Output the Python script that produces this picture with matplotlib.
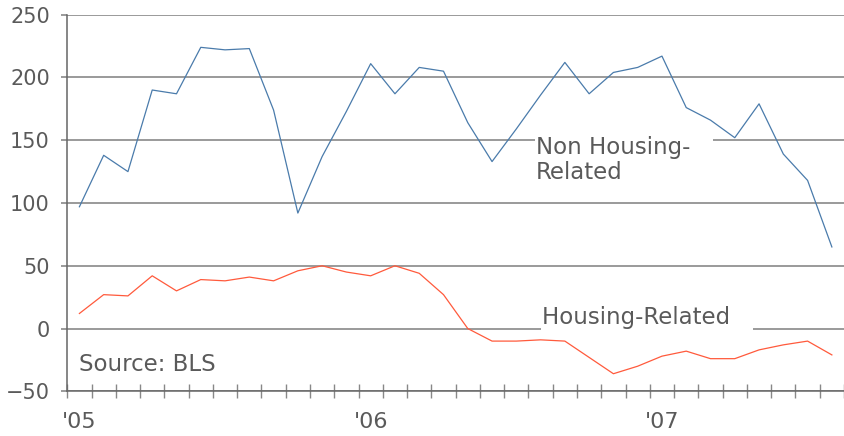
import matplotlib.pyplot as plt
import numpy as np

# monthly, Jan 2005 - Aug 2007
months = np.arange(32)
non_housing = np.array([97, 138, 125, 190, 187, 224, 222, 223, 174, 92,
                        137, 173, 211, 187, 208, 205, 164, 133, 159, 186,
                        212, 187, 204, 208, 217, 176, 166, 152, 179, 139,
                        118, 65])
housing = np.array([12, 27, 26, 42, 30, 39, 38, 41, 38, 46,
                    50, 45, 42, 50, 44, 27, 0, -10, -10, -9,
                    -10, -23, -36, -30, -22, -18, -24, -24, -17, -13,
                    -10, -21])
year_pos = [0, 12, 24]
year_labels = ["'05", "'06", "'07"]
yticks = [-50, 0, 50, 100, 150, 200, 250]

text_col = '#5a5a5a'
grid_col = '#7f7f7f'

fig = plt.figure(figsize=(8.44, 4.36), dpi=100)
ax = fig.add_axes([0.0797, 0.1025, 0.9203, 0.8638])

ax.plot(months, non_housing, color='#4a7bab', lw=0.9, zorder=3)
ax.plot(months, housing, color='#ff5a3c', lw=0.9, zorder=3)

ax.set_ylim(-50, 250)
ax.set_xlim(-0.5, 31.2)
ax.set_yticks(yticks)
ax.yaxis.grid(True, color=grid_col, lw=1.1)
ax.set_axisbelow(True)

ax.set_xticks(year_pos)
ax.set_xticklabels(year_labels)
ax.set_xticks(np.arange(-0.5, 32, 1), minor=True)
ax.tick_params(axis='x', which='major', length=0, pad=15, labelsize=16, labelcolor=text_col)
ax.tick_params(axis='x', which='minor', direction='inout', length=9.5, width=1, color='#888888')
ax.tick_params(axis='y', length=4.5, width=1.1, color=grid_col, pad=8, labelsize=15, labelcolor=text_col)

for s in ['top', 'right']:
    ax.spines[s].set_visible(False)
ax.spines['left'].set_color('#666666')
ax.spines['left'].set_linewidth(1.1)
ax.spines['bottom'].set_color('#666666')
ax.spines['bottom'].set_linewidth(1.1)

ax.text(18.8, 153.5, 'Non Housing-   \nRelated', fontsize=16.5, color=text_col,
        va='top', ha='left', zorder=2, linespacing=1.12,
        bbox=dict(facecolor='white', edgecolor='none', boxstyle='square,pad=0.05'))
ax.text(19.05, 3.5, 'Housing-Related   ', fontsize=16.5, color=text_col,
        va='baseline', ha='left', zorder=2,
        bbox=dict(facecolor='white', edgecolor='none', boxstyle='square,pad=0.05'))
ax.text(0, -33.5, 'Source: BLS', fontsize=16.5, color=text_col, va='baseline', ha='left')

plt.savefig('out.png', dpi=100)
